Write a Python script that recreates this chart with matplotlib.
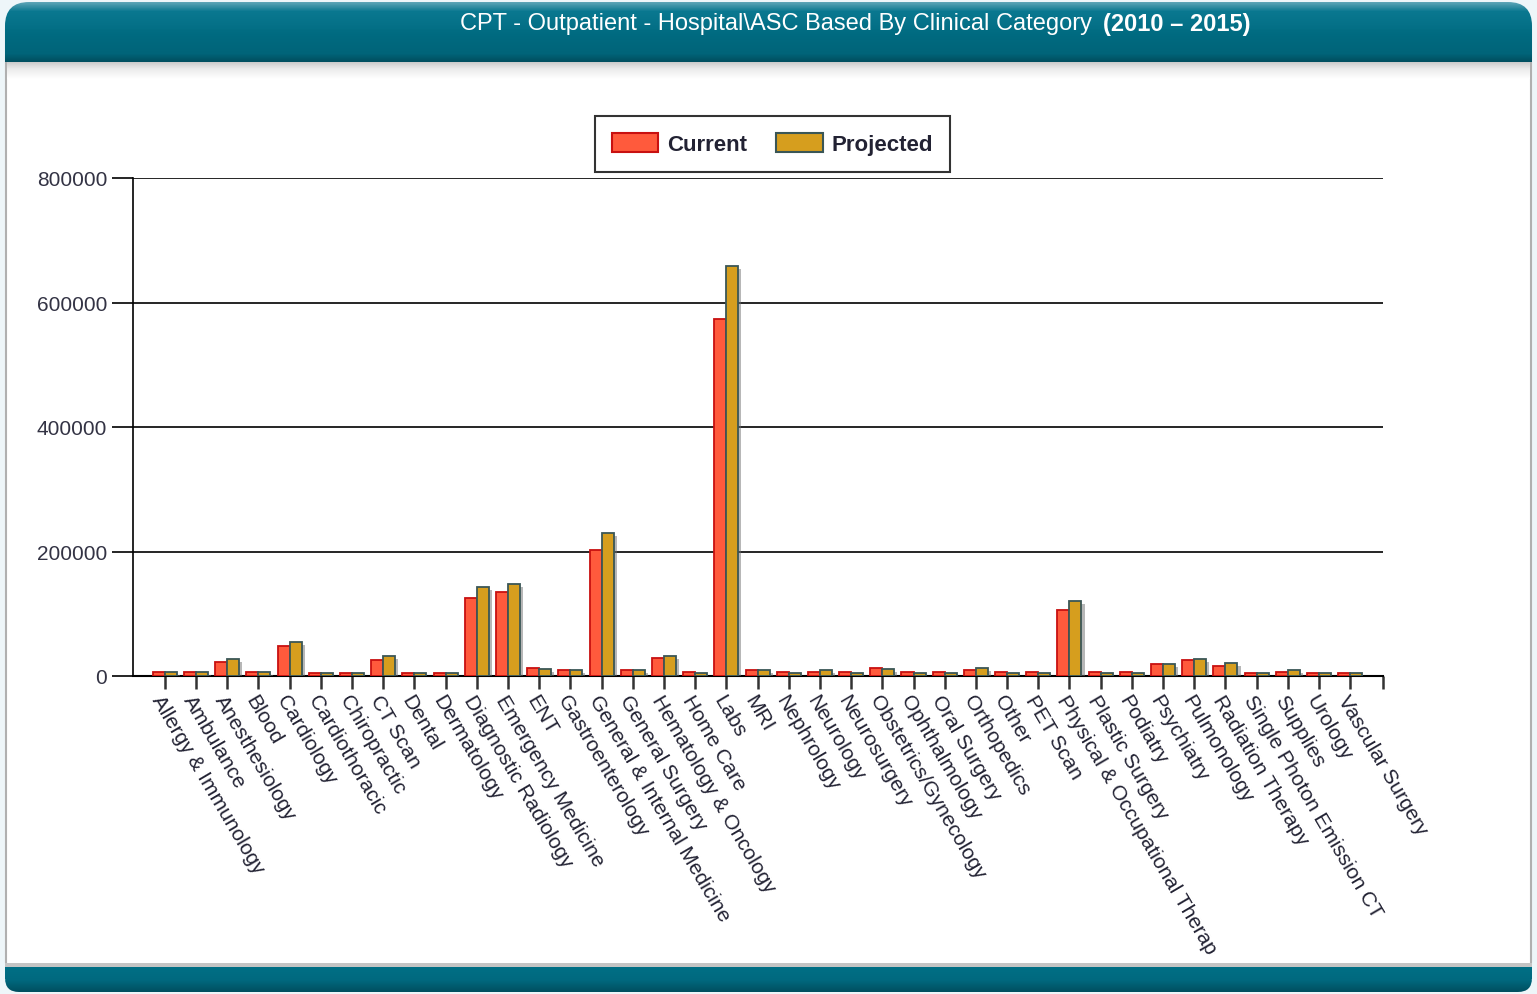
import numpy as np
import matplotlib
matplotlib.use("Agg")
import matplotlib.pyplot as plt
from matplotlib.patches import FancyBboxPatch, Rectangle, Patch
from matplotlib.colors import LinearSegmentedColormap
import matplotlib.patheffects as pe

categories = ["Allergy & Immunology", "Ambulance", "Anesthesiology", "Blood", "Cardiology",
              "Cardiothoracic", "Chiropractic", "CT Scan", "Dental", "Dermatology",
              "Diagnostic Radiology", "Emergency Medicine", "ENT", "Gastroenterology",
              "General & Internal Medicine", "General Surgery", "Hematology & Oncology",
              "Home Care", "Labs", "MRI", "Nephrology", "Neurology", "Neurosurgery",
              "Obstetrics/Gynecology", "Ophthalmology", "Oral Surgery", "Orthopedics", "Other",
              "PET Scan", "Physical & Occupational Therap", "Plastic Surgery", "Podiatry",
              "Psychiatry", "Pulmonology", "Radiation Therapy", "Single Photon Emission CT",
              "Supplies", "Urology", "Vascular Surgery"]
current = [6000, 6000, 22500, 6000, 48500, 5500, 5500, 26000, 5500, 5500,
           125500, 135000, 13000, 10000, 202000, 10000, 29000, 6500, 573000, 10000,
           6500, 6500, 6500, 13000, 6000, 6000, 10000, 6500, 6500, 106000,
           6500, 6500, 19500, 26000, 16000, 5500, 6000, 5500, 5500]
projected = [6000, 6000, 27000, 6000, 55000, 5000, 5000, 32500, 5000, 5000,
             143500, 148000, 12000, 9500, 230000, 9500, 32000, 5500, 658500, 9500,
             5500, 10000, 5500, 12000, 5500, 5500, 13000, 5500, 5500, 121000,
             5500, 5500, 19000, 28000, 21500, 5000, 9500, 5000, 5000]
yticks = [0, 200000, 400000, 600000, 800000]
title_main = "CPT - Outpatient - Hospital\\ASC Based By Clinical Category"
title_years = "(2010 \u2013 2015)"

FONT = ["Liberation Sans", "DejaVu Sans"]
W, H = 1537, 995
fig = plt.figure(figsize=(W / 100, H / 100), dpi=100)
fig.patch.set_facecolor("#eef6f9")

# background decoration
bg = fig.add_axes([0, 0, 1, 1], zorder=-5)
bg.set_xlim(0, W)
bg.set_ylim(H, 0)
bg.axis("off")
bg.add_patch(FancyBboxPatch((6, 8), W - 12, H - 18, boxstyle="round,pad=0,rounding_size=22",
                            fc="white", ec="#b0b0b0", lw=1.5))

# shadow under header
shade = LinearSegmentedColormap.from_list("shade", ["#bdbdbd", "#ececec", "#ffffff"])
bg.imshow(np.linspace(0, 1, 50).reshape(-1, 1), cmap=shade, aspect="auto",
          extent=(7, W - 7, 80, 60), zorder=1)

hdr_cmap = LinearSegmentedColormap.from_list(
    "hdr", [(0, "#5aa3b5"), (0.15, "#0a7890"), (0.6, "#006a80"), (0.88, "#006479"), (1, "#004f60")])
header = FancyBboxPatch((5, 3), W - 10, 60, boxstyle="round,pad=0,rounding_size=24",
                        fc="none", ec="none")
bg.add_patch(header)
hdr_rect = Rectangle((5, 30), W - 10, 33, fc="none", ec="none")
bg.add_patch(hdr_rect)
im1 = bg.imshow(np.linspace(0, 1, 60).reshape(-1, 1), cmap=hdr_cmap, aspect="auto",
                extent=(5, W - 5, 63, 3), zorder=2)
im1.set_clip_path(header)
im1b = bg.imshow(np.linspace(0.5, 1, 33).reshape(-1, 1), cmap=hdr_cmap, aspect="auto",
                 extent=(5, W - 5, 63, 30), zorder=2, vmin=0, vmax=1)
im1b.set_clip_path(hdr_rect)

# footer band
ftr_cmap = LinearSegmentedColormap.from_list("ftr", ["#006f85", "#006a80", "#004f60"])
footer = FancyBboxPatch((5, 968), W - 10, 25, boxstyle="round,pad=0,rounding_size=14",
                        fc="none", ec="none")
bg.add_patch(footer)
ftr_rect = Rectangle((5, 968), W - 10, 12, fc="none", ec="none")
bg.add_patch(ftr_rect)
im2 = bg.imshow(np.linspace(0, 1, 30).reshape(-1, 1), cmap=ftr_cmap, aspect="auto",
                extent=(5, W - 5, 993, 968), zorder=2)
im2.set_clip_path(footer)
im2b = bg.imshow(np.linspace(0, 0.5, 12).reshape(-1, 1), cmap=ftr_cmap, aspect="auto",
                 extent=(5, W - 5, 980, 968), zorder=2, vmin=0, vmax=1)
im2b.set_clip_path(ftr_rect)
bg.add_patch(Rectangle((5, 964), W - 10, 4, fc="#c4c4c4", ec="none", zorder=2))

# title
bg.text(1092, 24, title_main, color="white", fontsize=17, ha="right", va="center",
        family=["Liberation Sans Narrow"] + FONT, zorder=5)
bg.text(1103, 24, title_years, color="white", fontsize=17, fontweight="bold", ha="left",
        va="center", family=FONT, zorder=5)

# chart
left, right, top, bottom = 133, 1383, 179, 677
ax = fig.add_axes([left / W, 1 - bottom / H, (right - left) / W, (bottom - top) / H])
ax.set_facecolor("none")
x = np.arange(len(categories))
w = 0.385
shadow = [pe.SimplePatchShadow(offset=(2.2, -2.2), shadow_rgbFace="#707070", alpha=0.5), pe.Normal()]
ax.bar(x - w / 2, current, width=w, color="#ff5a3c", edgecolor="#c81010", linewidth=1.3,
       path_effects=shadow, zorder=3, label="Current")
ax.bar(x + w / 2, projected, width=w, color="#d69e1e", edgecolor="#3a5656", linewidth=1.3,
       path_effects=shadow, zorder=3, label="Projected")

ax.set_xlim(-1.02, 39.05)
ax.set_ylim(0, 800000)
ax.set_yticks(yticks)
ax.set_yticklabels([str(v) for v in yticks], fontsize=15, color="#333344", family=FONT)
for v in yticks[1:]:
    ax.axhline(v, color="black", lw=1.2, zorder=1)
for s in ["top", "right"]:
    ax.spines[s].set_visible(False)
ax.spines["left"].set_color("black")
ax.spines["bottom"].set_color("black")
ax.spines["left"].set_linewidth(1.2)
ax.spines["bottom"].set_linewidth(1.5)
ax.tick_params(axis="y", length=15, width=1.2, color="black", pad=3.5)
ax.set_xticks(list(x) + [39.05])
ax.set_xticklabels(categories + [""], rotation=-59.5, ha="left", va="top",
                   rotation_mode="anchor", fontsize=15, color="#222233", family=FONT)
ax.tick_params(axis="x", length=9, width=1.8, color="#333333", pad=2)
for lbl in ax.get_xticklabels():
    lbl.set_transform(lbl.get_transform() + matplotlib.transforms.ScaledTranslation(0.0, 0, fig.dpi_scale_trans))

handles = [Patch(fc="#ff5a3c", ec="#c81010", lw=1.5), Patch(fc="#d69e1e", ec="#3a5656", lw=1.5)]
leg = fig.legend(handles, ["Current", "Projected"], loc="center", ncol=2,
                 bbox_to_anchor=(772.5 / W, 1 - 145 / H), frameon=True, fancybox=False,
                 edgecolor="black", handlelength=2.1, handleheight=0.9,
                 columnspacing=1.3, borderpad=0.75, handletextpad=0.4,
                 prop={"family": FONT, "weight": "bold", "size": 16})
leg.get_frame().set_linewidth(1.5)
for t in leg.get_texts():
    t.set_color("#222233")

fig.savefig("out.png", dpi=100, facecolor=fig.get_facecolor())
